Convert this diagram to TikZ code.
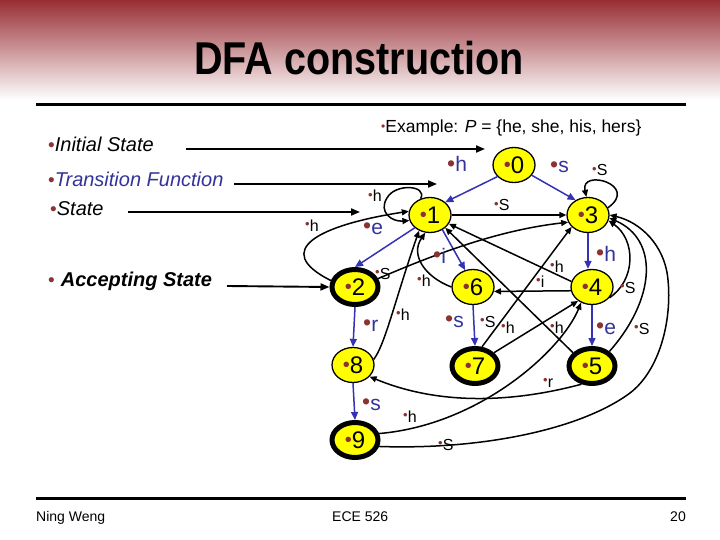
\documentclass[tikz,border=0pt]{standalone}
\usepackage{fontspec}
\setmainfont{Liberation Sans}
\usetikzlibrary{shapes.geometric,arrows.meta}
\definecolor{dotc}{RGB}{140,50,50}
\definecolor{bluet}{RGB}{51,51,153}
\definecolor{bluea}{RGB}{51,51,180}
\definecolor{nodey}{RGB}{255,255,0}
\definecolor{topred}{RGB}{152,46,52}
\definecolor{midred}{RGB}{202,150,152}
\newcommand\nd[1]{\raisebox{1.6pt}{\fontsize{20}{20}\selectfont\textcolor{dotc}{•}}{\fontsize{24}{24}\selectfont #1}}
\newcommand\bl[1]{\raisebox{0.6pt}{\fontsize{23}{23}\selectfont\textcolor{dotc}{•}}\textcolor{bluet}{\fontsize{21}{21}\selectfont #1}}
\newcommand\kl[1]{\raisebox{2.2pt}{\fontsize{13}{13}\selectfont\textcolor{dotc}{•}}{\fontsize{16}{16}\selectfont #1}}
\newcommand\lbul{\raisebox{0pt}{\fontsize{19}{19}\selectfont\textcolor{dotc}{•}}}
\tikzset{
 st/.style={ellipse, draw=black, line width=1.3pt, fill=nodey, minimum width=42pt, minimum height=35pt, inner sep=0pt},
 acc/.style={st, line width=5pt, minimum width=46pt, minimum height=35pt},
 be/.style={draw=bluea, line width=1.5pt, -{Triangle[length=8pt,width=7pt]}},
 ke/.style={draw=black, line width=1.5pt, -{Triangle[length=7pt,width=6pt]}},
 le/.style={draw=black, line width=1.9pt, -{Triangle[length=9pt,width=7pt]}},
 la/.style={anchor=base west, inner sep=0pt},
}
\begin{document}
\begin{tikzpicture}[x=1pt,y=-1pt]
\useasboundingbox (0,0) rectangle (720,540);
\fill[white] (0,0) rectangle (720,540);
\shade[top color=topred, middle color=midred, bottom color=white] (0,0) rectangle (720,100);
% title
\node[font=\bfseries\fontsize{46}{46}\selectfont] (title) at (359,58) {\scalebox{0.86}[1]{DFA construction}};
\draw[line width=3pt] (36,105) -- (686,105);
\draw[line width=3pt] (36,498) -- (686,498);
% footer
\node[la, font=\fontsize{14}{14}\selectfont] (f1) at (36,521) {Ning Weng};
\node[la, font=\fontsize{14}{14}\selectfont] (f2) at (332,521) {ECE 526};
\node[anchor=base east, inner sep=0pt, font=\fontsize{14}{14}\selectfont] (f3) at (686,521) {20};
% left texts
\node[la, font=\fontsize{20}{20}\selectfont] (t1) at (48,152) {\lbul\textit{Initial State}};
\node[la, font=\fontsize{20}{20}\selectfont] (t2) at (48,187) {\lbul\textcolor{bluet}{\textit{Transition Function}}};
\node[la, font=\fontsize{20}{20}\selectfont] (t3) at (50,215) {\lbul\textit{State}};
\node[la, font=\fontsize{20}{20}\selectfont] (t4) at (48,286) {\lbul\hspace{6pt}\textbf{\textit{Accepting State}}};
\node[la, font=\fontsize{17.5}{17.5}\selectfont] (ex) at (381,133) {\raisebox{2pt}{\fontsize{12}{12}\selectfont\textcolor{dotc}{•}}Example: \textit{P} = \{he, she, his, hers\}};
% states
\node[st]  (n0) at (514,165) {\nd{0}};
\node[st]  (n1) at (430,215) {\nd{1}};
\node[acc] (n2) at (355,287) {\nd{2}};
\node[st]  (n3) at (588,215) {\nd{3}};
\node[st]  (n4) at (592,287) {\nd{4}};
\node[acc] (n5) at (592,366) {\nd{5}};
\node[st]  (n6) at (473,287) {\nd{6}};
\node[acc] (n7) at (475,366) {\nd{7}};
\node[st]  (n8) at (353,365) {\nd{8}};
\node[acc] (n9) at (355,440) {\nd{9}};
% left arrows
\coordinate (a1) at (186,149); \coordinate (b1) at (485,149);
\coordinate (a2) at (234,184); \coordinate (b2) at (437,184);
\coordinate (a3) at (128,212); \coordinate (b3) at (360,212);
\coordinate (a4) at (227,286);
\draw[le] (a1) -- (b1);
\draw[le] (a2) -- (b2);
\draw[le] (a3) -- (b3);
\draw[le] (a4) -- (n2.west);
% goto edges
\draw[be] (n0.215) -- (n1.40);
\draw[be] (n0.-30) -- (n3.130);
\draw[be] (n1.220) -- (n2.north);
\draw[be] (n1.-50) -- (n6.115);
\draw[be] (n2.south) -- (n8.north);
\draw[be] (n8.south) -- (n9.north);
\draw[be] (n6.south) -- (n7.north);
\draw[be] (n3.south) -- (n3.south |- n4.north);
\draw[be] (n4.south) -- (n5.north);
% other transitions
\draw[ke] (n1.120) .. controls (428,185) and (395,183) .. (387,198) .. controls (378,212) and (392,222) .. (n1.195);
\draw[ke] (n2.165) .. controls (270,250) and (320,225) .. (n1.170);
\draw[ke] (n1.east) -- (n3.west);
\draw[ke] (n2.20) .. controls (440,252) and (500,230) .. (n3.200);
\draw[ke] (n6.west) .. controls (425,277) and (410,255) .. (n1.-105);
\draw[ke] (n8.15) .. controls (385,345) and (395,300) .. (n1.-125);
\draw[ke] (n7.70) -- (n3.216);
\draw[ke] (n7.35) -- (n4.225);
\draw[ke] (n4.165) -- (n1.-25);
\draw[ke] (n4.190) -- (n6.-12);
\draw[ke] (n5.145) -- (n1.-40);
\draw[ke] (n4.-32) .. controls (636,280) and (636,240) .. (n3.-15);
\draw[ke] (n5.40) .. controls (655,300) and (660,240) .. (n3.-8);
\draw[ke] (n9.-15) .. controls (480,450) and (580,430) .. (630,393) .. controls (660,370) and (672,320) .. (668,280) .. controls (665,245) and (640,222) .. (n3.0);
\draw[ke] (n9.15) .. controls (480,425) and (562,350) .. (n4.-125);
\draw[ke] (n5.-120) .. controls (530,398) and (450,410) .. (n8.-35);
\draw[ke] (n3.20) .. controls (640,185) and (580,168) .. (n3.95);
% blue labels
\node[la] (l01) at (447,172) {\bl{h}};
\node[la] (l03) at (550,173) {\bl{s}};
\node[la] (l12) at (363,234) {\bl{e}};
\node[la] (l16) at (433,263) {\bl{i}};
\node[la] (l28) at (363,331) {\bl{r}};
\node[la] (l89) at (362,410) {\bl{s}};
\node[la] (l67) at (445,327) {\bl{s}};
\node[la] (l34) at (596,261) {\bl{h}};
\node[la] (l45) at (596,334) {\bl{e}};
% black labels
\node[la] (k11) at (368,202) {\kl{h}};
\node[la] (k21) at (305,231) {\kl{h}};
\node[la] (k13) at (494,211) {\kl{S}};
\node[la] (k33) at (592,176) {\kl{S}};
\node[la] (k23) at (375,279) {\kl{S}};
\node[la] (k61) at (417,286) {\kl{h}};
\node[la] (k81) at (396,320) {\kl{h}};
\node[la] (k73) at (480,327) {\kl{S}};
\node[la] (k74) at (501,333) {\kl{h}};
\node[la] (k41) at (550,272) {\kl{h}};
\node[la] (k46) at (536,287) {\kl{i}};
\node[la] (k51) at (550,333) {\kl{h}};
\node[la] (k43) at (620,293) {\kl{S}};
\node[la] (k53) at (634,334) {\kl{S}};
\node[la] (k58) at (543,387) {\kl{r}};
\node[la] (k94) at (403,422) {\kl{h}};
\node[la] (k93) at (438,450) {\kl{S}};
\end{tikzpicture}
\end{document}
